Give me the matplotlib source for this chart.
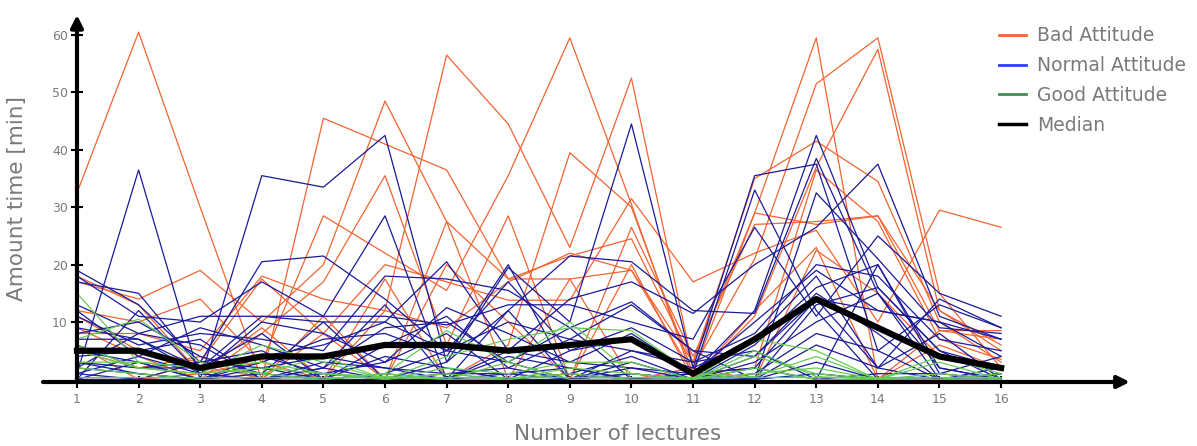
import matplotlib
matplotlib.use("Agg")
import matplotlib.pyplot as plt
from matplotlib.lines import Line2D

#
# Data
#

lectures = list(range(1, 17))

bad = [
    [32.5, 60.5, 30, 0, 45.5, 41, 36.5, 17.5, 21.5, 24.5, 3, 35, 41.5, 34.5, 10, 3],
    [17, 14, 19, 10, 20, 48.5, 27.5, 17.5, 17.5, 19, 1, 29, 59.5, 0, 8.5, 8.5],
    [12, 10, 14, 3, 28.5, 22, 15.5, 35.5, 59.5, 30.5, 0, 11, 37, 57.5, 12, 6],
    [8, 8, 5, 18, 14, 12, 56.5, 44.5, 23, 52.5, 2, 21, 51.5, 59.5, 15, 2],
    [9, 4, 0, 8, 17, 35.5, 6, 28.5, 0, 26.5, 4, 27, 27.5, 28.5, 8.5, 7],
    [6, 0, 3, 17.5, 8, 20, 17, 13.8, 13.8, 31.5, 17, 22, 26, 10, 29.5, 26.5],
    [18, 13, 1, 9, 0, 17.5, 0, 6, 39.5, 30, 1, 2, 36.5, 27.5, 7, 3.5],
    [11, 5, 3, 0, 8, 0, 27.5, 0, 17.5, 0, 2, 0, 22.5, 15, 4, 2],
    [0, 0, 1, 3, 0, 12, 9, 17, 22, 19, 3, 29, 27, 28.5, 12, 5],
    [5, 2, 4, 0, 11, 0, 20, 10, 0, 20, 0, 12, 23, 0, 6, 2],
]

normal = [
    [19, 13, 3, 20.5, 21.5, 14, 5, 17, 5, 7, 1, 12, 42.5, 16, 5, 2],
    [1, 36.5, 0, 35.5, 33.5, 42.5, 3, 19.5, 10, 44.5, 2, 35.5, 37.5, 5, 13, 9],
    [18, 11, 10, 17, 11, 28.5, 0, 12, 21.5, 20.5, 12, 11.5, 38.5, 15, 0, 1],
    [17, 15, 2, 11, 10, 10, 20.5, 5, 14, 17, 11.5, 20, 26.5, 37.5, 11, 7],
    [13, 8, 11, 11, 11, 11, 9.5, 13, 13, 10, 7, 26.5, 11, 25, 15, 11],
    [11, 6, 8, 7, 5, 18, 17.5, 15.5, 9, 13.5, 5, 0, 32.5, 21, 9, 8],
    [8, 10, 4, 1, 0, 6, 11, 2, 7, 5, 3, 8, 20, 18, 7, 5],
    [7, 7, 1, 10, 8, 3, 12.5, 8, 3, 8, 1, 10, 19, 12, 10, 4],
    [5, 3, 0, 3, 7, 8, 4, 20, 0, 2, 0, 6, 16, 20, 2, 0],
    [4, 5, 7, 0, 2, 13, 0, 0, 1, 0, 0, 4, 15, 8, 0, 1],
    [3, 2, 2, 8, 0, 1, 5, 3, 9, 0, 1, 2, 14, 2, 14, 9],
    [2, 1, 0, 1, 10, 0, 3, 12, 0, 3, 0, 0, 13, 16, 5, 0],
    [0, 3, 0, 4, 1, 0, 0, 5, 3, 2, 1, 33, 12, 0, 0, 2],
    [0, 12, 1, 0, 3, 2, 1, 1, 0, 1, 0, 3, 10, 15, 2, 0],
    [1, 0, 3, 2, 0, 4, 2, 0, 1, 4, 0, 1, 8, 5, 0, 0],
    [12, 4, 9, 6, 2, 0, 0, 4, 2, 0, 1, 0, 6, 2, 8, 0],
    [2, 8, 6, 0, 1, 3, 8, 0, 5, 9, 3, 5, 0, 20, 1, 4],
    [0, 0, 0, 0, 0, 1, 0, 0, 0, 0, 0, 0, 1, 0, 0, 0],
    [6, 2, 3, 5, 0, 0, 1, 2, 0, 1, 0, 0, 3, 0, 0, 0],
    [3, 1, 0, 2, 4, 2, 0, 1, 2, 0, 0, 2, 0, 1, 1, 0],
    [9, 7, 2, 4, 6, 10, 5, 10, 7, 13, 5, 4, 14, 12, 10, 7],
    [1, 4, 1, 0, 2, 9, 10, 3, 0, 5, 2, 7, 18, 2, 0, 1],
]

good = [
    [15, 3, 2, 1, 4, 0, 1, 0, 1, 0, 0, 1, 2, 0, 0, 0],
    [7, 10.5, 3, 1, 0, 1, 8.5, 3, 10, 1, 0, 7, 5, 0, 3, 0],
    [6, 2, 1, 6, 3, 0, 4, 7, 9, 8.5, 1, 0.5, 4, 0, 1, 0],
    [3, 3, 2, 3, 1, 0.5, 0, 3, 0, 0, 0, 4, 1, 0, 0, 1],
    [2, 1, 0, 0, 0, 1, 0, 0, 2, 1, 0, 5, 0.5, 0, 0, 0],
    [0.5, 0.5, 0.5, 0.5, 0.5, 0.5, 0.5, 0.5, 0.5, 0.5, 0.5, 0.5, 0.5, 0.5, 0.5, 0.5],
    [5, 2, 1, 2, 1, 0, 2, 1, 3, 3, 0, 2, 0, 0, 4, 1],
]

median = [5, 5, 2, 4, 4, 6, 6, 5, 6, 7, 1, 7, 14, 9, 4, 2]

y_ticks = [10, 20, 30, 40, 50, 60]

#
# Styles
#

c_bad = "#f26430"
c_normal = "#1a1a99"
c_good = "#66cc55"
c_text = "#7a7a7a"
plt.rcParams['font.family'] = ['DejaVu Sans']

fig = plt.figure(figsize=(11.97, 4.46), dpi=100)
ax = fig.add_axes([0.0359, 0.1435, 0.908, 0.823])

for s in bad:
    ax.plot(lectures, s, color=c_bad, lw=0.9)
for s in normal:
    ax.plot(lectures, s, color=c_normal, lw=0.9)
for s in good:
    ax.plot(lectures, s, color=c_good, lw=0.9)
ax.plot(lectures, median, color="black", lw=4.5, solid_joinstyle="round")

ax.set_xlim(0.448, 18.09)
ax.set_ylim(-0.45, 63.5)

# axes with arrows
for s in ax.spines:
    ax.spines[s].set_visible(False)
ax.spines['left'].set_position(('data', 1))
ax.annotate("", xy=(1, 63.5), xytext=(1, -0.45), xycoords="data",
            arrowprops=dict(arrowstyle="-|>", lw=3, color="black", mutation_scale=18,
                            shrinkA=0, shrinkB=0), annotation_clip=False)
ax.annotate("", xy=(18.09, -0.45), xytext=(0.448, -0.45), xycoords="data",
            arrowprops=dict(arrowstyle="-|>", lw=3, color="black", mutation_scale=18,
                            shrinkA=0, shrinkB=0), annotation_clip=False)

ax.set_xticks(lectures)
ax.set_yticks(y_ticks)
ax.tick_params(axis="both", direction="inout", length=9, width=1.5, color="black",
               labelcolor=c_text, labelsize=9)
ax.tick_params(axis="y", pad=2)

ax.set_xlabel("Number of lectures", color=c_text, fontsize=15.5)
ax.xaxis.set_label_coords(0.529, -0.115)
ax.text(-0.024, 0.5, "Amount time [min]", transform=ax.transAxes, rotation=90,
        color=c_text, fontsize=15.5, ha="center", va="center")

handles = [Line2D([], [], color=c_bad, lw=2),
           Line2D([], [], color="#2a3cff", lw=2),
           Line2D([], [], color="#3d8f4f", lw=2),
           Line2D([], [], color="black", lw=2.5)]
ax.legend(handles, ["Bad Attitude", "Normal Attitude", "Good Attitude", "Median"],
          loc="upper left", bbox_to_anchor=(0.864, 1.015), frameon=False,
          fontsize=13.5, labelcolor=c_text, handlelength=1.45, handletextpad=0.6,
          labelspacing=0.58)

plt.savefig("out.png", dpi=100)
